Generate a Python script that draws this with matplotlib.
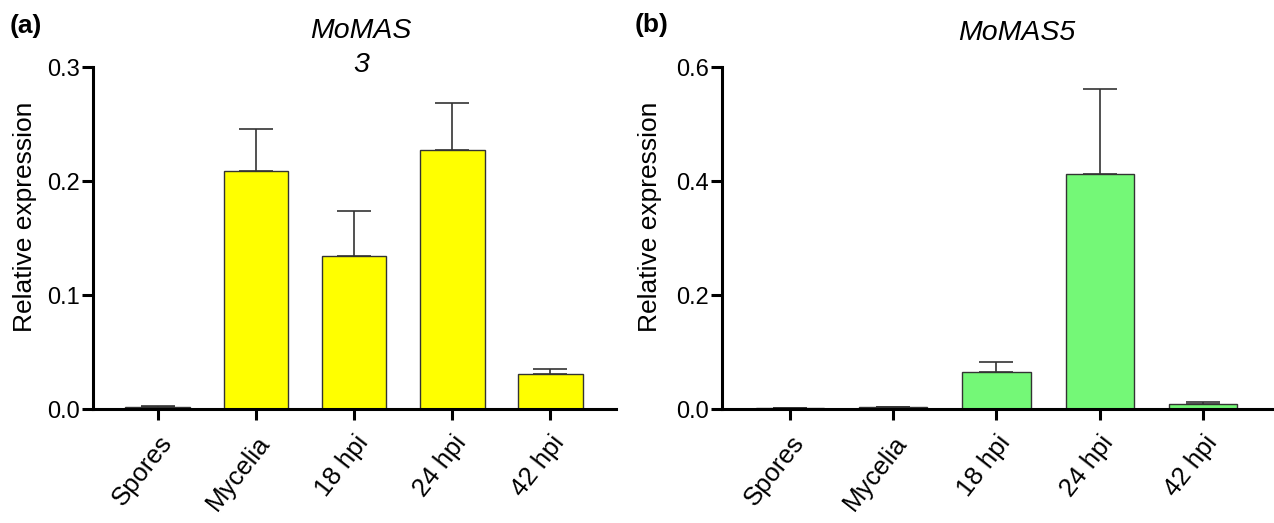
import matplotlib
matplotlib.use("Agg")
import matplotlib.pyplot as plt

plt.rcParams['font.family'] = ['Liberation Sans', 'DejaVu Sans']

categories = ['Spores', 'Mycelia', '18 hpi', '24 hpi', '42 hpi']

# MoMAS3
mas3_mean = [0.002, 0.209, 0.134, 0.227, 0.031]
mas3_err = [0.001, 0.037, 0.040, 0.041, 0.004]

# MoMAS5
mas5_mean = [0.001, 0.003, 0.065, 0.412, 0.009]
mas5_err = [0.001, 0.001, 0.017, 0.149, 0.003]

W, H = 1274, 523
fig = plt.figure(figsize=(W / 100, H / 100), dpi=100)

ax1 = fig.add_axes([93 / W, 1 - 409 / H, (616 - 93) / W, 342 / H])
ax2 = fig.add_axes([722 / W, 1 - 409 / H, (1273 - 722) / W, 342 / H])


def draw(ax, means, errs, color, ymax, yticks, xlim):
    x = range(len(categories))
    ax.bar(x, means, width=0.66, color=color, edgecolor='#333333', linewidth=1.0, zorder=2)
    ax.errorbar(x, means, yerr=[[0] * len(errs), errs], fmt='none', ecolor='#333333',
                elinewidth=1.2, capsize=12.5, capthick=1.2, zorder=3)
    ax.set_xlim(*xlim)
    ax.set_ylim(0, ymax)
    ax.set_yticks(yticks)
    ax.set_yticklabels([f'{t:.1f}' for t in yticks])
    ax.set_xticks(list(x))
    ax.set_xticklabels(categories, rotation=52, ha='right', va='top', rotation_mode='anchor',
                       fontsize=18.5)
    for s in ['top', 'right']:
        ax.spines[s].set_visible(False)
    for s in ['left', 'bottom']:
        ax.spines[s].set_linewidth(2.2)
        ax.spines[s].set_zorder(4)
    ax.tick_params(axis='both', direction='out', length=8, width=2.2)
    ax.tick_params(axis='y', pad=1.5, labelsize=17)
    ax.tick_params(axis='x', pad=8)
    ax.text(-0.13, 0.561, 'Relative expression', transform=ax.transAxes, rotation=90,
            ha='center', va='center', fontsize=19)


draw(ax1, mas3_mean, mas3_err, '#FFFF00', 0.3, [0.0, 0.1, 0.2, 0.3], (-0.66, 4.67))
draw(ax2, mas5_mean, mas5_err, '#74F877', 0.6, [0.0, 0.2, 0.4, 0.6], (-0.66, 4.68))

fig.text(361 / W, 1 - 48 / H, 'MoMAS\n3', ha='center', va='center',
         fontsize=20.5, style='italic', linespacing=1.45)
fig.text(1017 / W, 1 - 33 / H, 'MoMAS5', ha='center', va='center',
         fontsize=20.5, style='italic')

fig.text(26 / W, 1 - 26 / H, '(a)', fontsize=19, fontweight='bold', ha='center', va='center')
fig.text(652 / W, 1 - 25 / H, '(b)', fontsize=19, fontweight='bold', ha='center', va='center')

fig.savefig('out.png', dpi=100)
